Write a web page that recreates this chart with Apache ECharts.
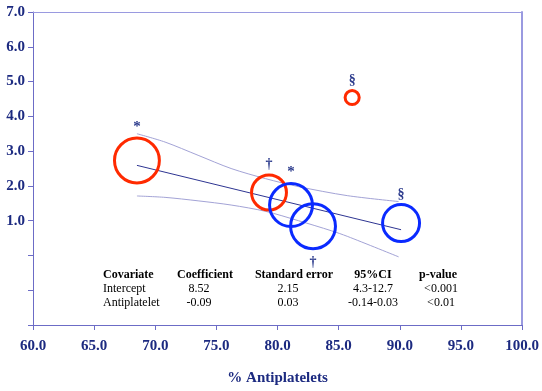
<!DOCTYPE html>
<html>
<head>
<meta charset="utf-8">
<script src="https://cdn.jsdelivr.net/npm/echarts@6/dist/echarts.min.js"></script>
<style>
  html, body { margin: 0; padding: 0; background: #fff; }
  #chart { width: 542px; height: 391px; }
</style>
</head>
<body>
<div id="chart"></div>
<script>
// Study-level results: % antiplatelet use vs outcome
const studyX = [68.5, 79.3, 81.1, 82.9, 90.1, 86.1];
const studyY = [2.73, 1.81, 1.45, 0.84, 0.93, 4.54];
const studyWeight = [23.3, 14.1, 21.3, 23.3, 15.8, 2.3];   // relative weight (%)
const studyGroup = ['A', 'A', 'B', 'B', 'B', 'A'];
const studyMark = ['*', '\u2020', '*', '\u2020', '\u00a7', '\u00a7'];
const markBelow = [false, false, false, true, false, false];

// Meta-regression fit and 95% confidence band
const fitX = [68.5, 90.1];
const fitY = [2.59, 0.74];
const ciUpperX = [68.5, 70.8, 73.5, 76.2, 79.0, 81.7, 85.7, 89.9];
const ciUpperY = [3.50, 3.26, 2.88, 2.50, 2.21, 1.98, 1.72, 1.55];
const ciLowerX = [68.5, 70.8, 73.5, 76.2, 79.0, 81.7, 84.4, 85.7, 89.9];
const ciLowerY = [1.71, 1.67, 1.57, 1.45, 1.27, 1.00, 0.71, 0.55, -0.04];

// Regression table
const tableHeader = ['Covariate', 'Coefficient', 'Standard error', '95%CI', 'p-value'];
const tableRows = [
  ['Intercept', '8.52', '2.15', '4.3-12.7', '<0.001'],
  ['Antiplatelet', '-0.09', '0.03', '-0.14-0.03', '<0.01']
];

const xMin = 60, xMax = 100, xStep = 5;
const yMin = -2, yMax = 7, yStep = 1;
const yLabelFrom = 1;

const groupColor = { A: '#ff2a00', B: '#0a2aff' };
const axisColor = '#6c6cc6';
const labelColor = '#1c2a80';
const serif = '"Liberation Serif", "DejaVu Serif", serif';

const pairs = (xs, ys) => xs.map((x, i) => [x, ys[i]]);

const bubbles = studyX.map((x, i) => ({
  value: [x, studyY[i], studyWeight[i]],
  itemStyle: {
    color: 'rgba(0,0,0,0)', borderColor: groupColor[studyGroup[i]],
    borderWidth: 3, opacity: 1
  },
  label: {
    show: true,
    formatter: studyMark[i],
    position: markBelow[i] ? 'bottom' : 'top',
    distance: studyMark[i] === '*' ? 2 : (markBelow[i] ? 5 : 2),
    color: '#2b3a8c',
    fontFamily: serif,
    fontWeight: 'bold',
    fontSize: studyMark[i] === '*' ? 15 : 14
  }
}));

const chart = echarts.init(document.getElementById('chart'), null, { renderer: 'canvas' });

// table layout (pixel columns)
const headerCx = [null, 205, 294, 373, 438];
const valueCx = [null, 199, 288, 373, 441];
const colLeft = 103;
const rowTop = 275, rowStep = 14;
const tableTexts = [];
tableHeader.forEach((t, c) => {
  tableTexts.push({
    type: 'text',
    x: c === 0 ? colLeft : headerCx[c],
    y: rowTop,
    style: {
      text: t, fill: '#000', font: 'bold 12px ' + serif,
      textAlign: c === 0 ? 'left' : 'center', textVerticalAlign: 'middle'
    }
  });
});
tableRows.forEach((row, r) => {
  row.forEach((t, c) => {
    tableTexts.push({
      type: 'text',
      x: c === 0 ? colLeft : valueCx[c],
      y: rowTop + (r + 1) * rowStep,
      style: {
        text: t, fill: '#000', font: '12px ' + serif,
        textAlign: c === 0 ? 'left' : 'center', textVerticalAlign: 'middle'
      }
    });
  });
});

chart.setOption({
  animation: false,
  backgroundColor: '#fff',
  grid: { left: 33, right: 16, top: 12, bottom: 63, containLabel: false },
  xAxis: [{
    type: 'value', min: xMin, max: xMax, interval: xStep,
    name: '% Antiplatelets', nameLocation: 'middle', nameGap: 46,
    nameTextStyle: { color: labelColor, fontFamily: serif, fontWeight: 'bold', fontSize: 15 },
    axisLine: { show: true, onZero: false, lineStyle: { color: axisColor, width: 1 } },
    axisTick: { show: true, inside: false, length: 5, lineStyle: { color: axisColor } },
    axisLabel: {
      margin: 14, color: labelColor, fontFamily: serif, fontWeight: 'bold', fontSize: 15,
      formatter: v => v.toFixed(1)
    },
    splitLine: { show: false }
  }, {
    type: 'value', position: 'top', min: xMin, max: xMax,
    axisLine: { show: true, onZero: false, lineStyle: { color: '#9a9ae0', width: 1 } },
    axisTick: { show: false }, axisLabel: { show: false }, splitLine: { show: false }
  }],
  yAxis: [{
    type: 'value', min: yMin, max: yMax, interval: yStep,
    axisLine: { show: true, onZero: false, lineStyle: { color: axisColor, width: 1 } },
    axisTick: { show: true, inside: false, length: 5, lineStyle: { color: axisColor } },
    axisLabel: {
      margin: 8, color: labelColor, fontFamily: serif, fontWeight: 'bold', fontSize: 15,
      formatter: v => (v >= yLabelFrom ? v.toFixed(1) : '')
    },
    splitLine: { show: false }
  }, {
    type: 'value', position: 'right', min: yMin, max: yMax,
    axisLine: { show: true, onZero: false, lineStyle: { color: '#9a9ae0', width: 2 } },
    axisTick: { show: false }, axisLabel: { show: false }, splitLine: { show: false }
  }],
  series: [
    {
      type: 'line', data: pairs(ciUpperX, ciUpperY), smooth: 0.3, symbol: 'none',
      lineStyle: { color: '#a3a3d6', width: 1 }, z: 2, silent: true
    },
    {
      type: 'line', data: pairs(ciLowerX, ciLowerY), smooth: 0.3, symbol: 'none',
      lineStyle: { color: '#a3a3d6', width: 1 }, z: 2, silent: true
    },
    {
      type: 'line', data: pairs(fitX, fitY), symbol: 'none',
      lineStyle: { color: '#2e3592', width: 1 }, z: 3, silent: true
    },
    {
      type: 'scatter', data: bubbles, z: 4,
      symbol: 'circle',
      symbolSize: v => Math.sqrt(v[2]) * 9.3
    }
  ],
  graphic: tableTexts
});
</script>
</body>
</html>
